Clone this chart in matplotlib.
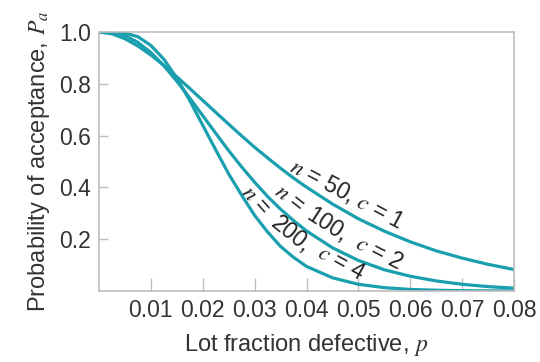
import matplotlib.pyplot as plt

plt.rcParams["font.family"] = ["Liberation Sans", "DejaVu Sans"]
plt.rcParams["mathtext.fontset"] = "stix"

# lot fraction defective and probability of acceptance
p = [0.0, 0.0025, 0.005, 0.0075, 0.01, 0.0125, 0.015, 0.0175, 0.02, 0.0225,
     0.025, 0.0275, 0.03, 0.0325, 0.035, 0.0375, 0.04, 0.045,
     0.05, 0.055, 0.06, 0.065, 0.07, 0.075, 0.08]
pa_n50 = [1.0, 0.993, 0.974, 0.946, 0.911, 0.871, 0.827, 0.782, 0.736, 0.690,
          0.644, 0.599, 0.555, 0.514, 0.474, 0.436, 0.401, 0.336,
          0.279, 0.231, 0.190, 0.155, 0.127, 0.103, 0.083]
pa_n100 = [1.0, 0.998, 0.986, 0.960, 0.921, 0.870, 0.810, 0.745, 0.677, 0.609,
           0.542, 0.479, 0.420, 0.365, 0.316, 0.272, 0.232, 0.167,
           0.118, 0.082, 0.057, 0.039, 0.026, 0.017, 0.011]
pa_n200 = [1.0, 1.0, 0.996, 0.982, 0.948, 0.895, 0.822, 0.735, 0.640, 0.545,
           0.452, 0.370, 0.292, 0.228, 0.172, 0.130, 0.095, 0.051,
           0.026, 0.013, 0.006, 0.003, 0.0012, 0.0006, 0.0003]

# curve labels, set in pieces so they bend with the curves
label_n50 = ["$n$ = 50, $c$ = 1"]
label_n100 = ["$n$ =", "100,", "$c$ = 2"]
label_n200 = ["$n$ =", "200,", "$c$ = 4"]

teal = "#1a9fae"
grey = "#bdbdbd"
ink = "#333333"

fig = plt.figure(figsize=(5.4, 3.62), dpi=100)
ax = fig.add_axes([0.1833, 0.1961, 0.7686, 0.7155])

for pa in (pa_n50, pa_n100, pa_n200):
    ax.plot(p, pa, color=teal, lw=2.3, solid_capstyle="butt",
            solid_joinstyle="round")

ax.set_xlim(0, 0.08)
ax.set_ylim(0, 1.0)
ax.set_xticks([0.01, 0.02, 0.03, 0.04, 0.05, 0.06, 0.07, 0.08])
ax.set_xticklabels(["0.01", "0.02", "0.03", "0.04", "0.05", "0.06", "0.07", "0.08"])
ax.set_yticks([0.2, 0.4, 0.6, 0.8, 1.0])
ax.set_yticklabels(["0.2", "0.4", "0.6", "0.8", "1.0"])

for s in ax.spines.values():
    s.set_color(grey)
    s.set_linewidth(1.2)

ax.tick_params(axis="x", direction="in", length=9.5, width=1, color=grey,
               labelsize=16.5, pad=6, labelcolor=ink)
ax.tick_params(axis="y", direction="in", length=6.5, width=1, color=grey,
               labelsize=16.5, pad=6, labelcolor=ink)

ax.set_xlabel("Lot fraction defective, $p$", fontsize=17, color=ink,
              labelpad=7)
ax.set_ylabel("Probability of acceptance, $P_a$", fontsize=17,
              color=ink, labelpad=5)

kw = dict(ha="center", va="center", fontsize=16.5, color="#222222")
ax.text(0.0478, 0.375, label_n50[0], rotation=-28, **kw)

ax.text(0.0367, 0.359, label_n100[0], rotation=-38, **kw)
ax.text(0.0440, 0.255, label_n100[1], rotation=-33, **kw)
ax.text(0.0540, 0.147, label_n100[2], rotation=-27, **kw)

ax.text(0.0303, 0.351, label_n200[0], rotation=-48, **kw)
ax.text(0.0370, 0.216, label_n200[1], rotation=-39, **kw)
ax.text(0.0467, 0.110, label_n200[2], rotation=-29, **kw)

fig.savefig("out.png", dpi=100)
